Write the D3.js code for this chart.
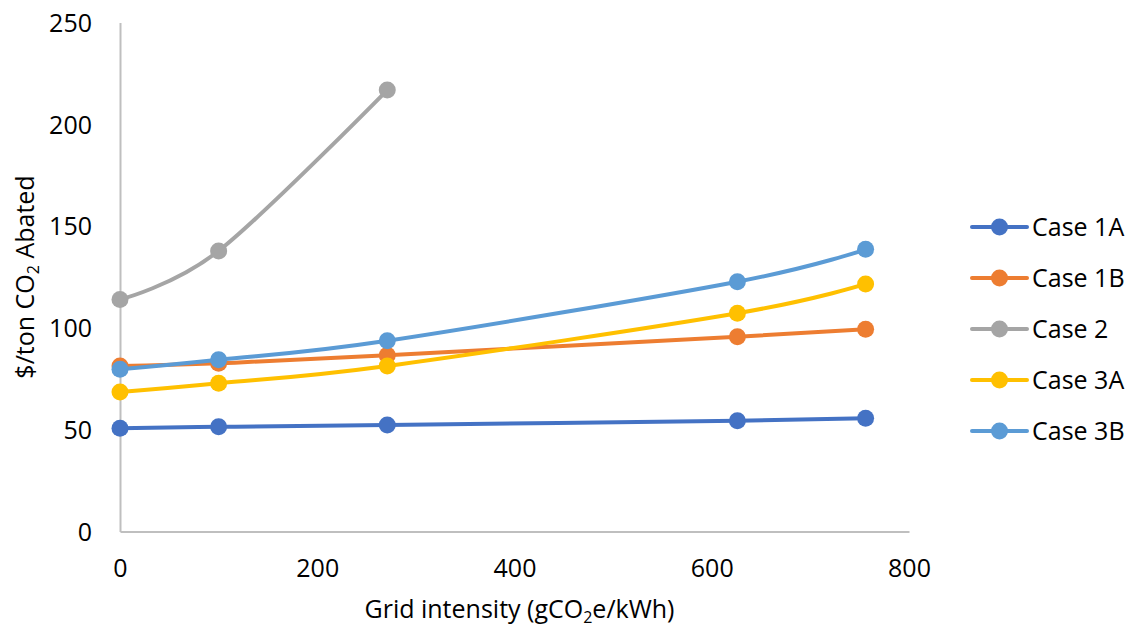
<!DOCTYPE html>
<html>
<head>
<meta charset="utf-8">
<script src="https://cdn.jsdelivr.net/npm/d3@7"></script>
<style>
  html, body { margin: 0; padding: 0; background: #fff; }
  svg { display: block; font-family: "Open Sans", Lato, sans-serif; }
</style>
</head>
<body>
<svg id="chart" width="1129" height="629"></svg>
<script>
// Grid intensity (gCO2e/kWh) at which each case was evaluated
const gridIntensity = [0, 100, 271, 626, 756];

// Abatement cost ($/ton CO2) per case
const case1A = [50.7, 51.4, 52.3, 54.4, 55.6];
const case1B = [81.3, 82.6, 86.6, 95.7, 99.3];
const case2  = [114, 137.8, 216.8];
const case3A = [68.5, 72.8, 81.3, 107.2, 121.6];
const case3B = [79.7, 84.4, 93.7, 122.7, 138.6];

const seriesNames = ["Case 1A", "Case 1B", "Case 2", "Case 3A", "Case 3B"];
const seriesValues = [case1A, case1B, case2, case3A, case3B];
const seriesColors = ["#4472C4", "#ED7D31", "#A5A5A5", "#FFC000", "#5B9BD5"];

const xTicks = [0, 200, 400, 600, 800];
const yTicks = [0, 50, 100, 150, 200, 250];

const FONT = "'Open Sans', Lato, sans-serif";
const FS = "25px";

const svg = d3.select("#chart");
const plot = { left: 120, right: 909, top: 22.5, bottom: 531.5 };

const x = d3.scaleLinear().domain([0, 800]).range([plot.left, plot.right]);
const y = d3.scaleLinear().domain([0, 250]).range([plot.bottom, plot.top]);

// Axes: plain grey lines, no tick marks
const xAxis = svg.append("g")
  .attr("transform", `translate(0,${plot.bottom})`)
  .call(d3.axisBottom(x).tickValues(xTicks).tickSize(0).tickPadding(28));
const yAxis = svg.append("g")
  .attr("transform", `translate(${plot.left},0)`)
  .call(d3.axisLeft(y).tickValues(yTicks).tickSize(0).tickPadding(28));

[xAxis, yAxis].forEach(g => {
  g.select(".domain").attr("stroke", "#BFBFBF").attr("stroke-width", 2);
  g.selectAll("text")
    .attr("fill", "#000")
    .style("font-family", FONT)
    .style("font-size", FS);
});
xAxis.selectAll("text").attr("dy", "0.71em");
yAxis.selectAll("text").attr("dy", "0.35em");

// Axis titles with subscript 2
const xTitle = svg.append("text")
  .attr("x", (plot.left + plot.right) / 2 + 5)
  .attr("y", 618)
  .attr("text-anchor", "middle")
  .style("font-size", FS);
xTitle.append("tspan").text("Grid intensity (gCO");
xTitle.append("tspan").text("2").attr("dy", 5).style("font-size", "16px");
xTitle.append("tspan").text("e/kWh)").attr("dy", -5);

const yTitle = svg.append("text")
  .attr("transform", `translate(34,${(plot.top + plot.bottom) / 2}) rotate(-90)`)
  .attr("text-anchor", "middle")
  .style("font-size", FS);
yTitle.append("tspan").text("$/ton CO");
yTitle.append("tspan").text("2").attr("dy", 5).style("font-size", "16px");
yTitle.append("tspan").text(" Abated").attr("dy", -5);

// Smoothed lines with circle markers
const line = d3.line()
  .x((d, i) => x(gridIntensity[i]))
  .y(d => y(d))
  .curve(d3.curveCardinal.tension(0));

seriesValues.forEach((vals, s) => {
  const g = svg.append("g");
  g.append("path")
    .attr("d", line(vals))
    .attr("fill", "none")
    .attr("stroke", seriesColors[s])
    .attr("stroke-width", 4)
    .attr("stroke-linecap", "round");
  g.selectAll("circle")
    .data(vals)
    .join("circle")
    .attr("cx", (d, i) => x(gridIntensity[i]))
    .attr("cy", d => y(d))
    .attr("r", 8.5)
    .attr("fill", seriesColors[s]);
});

// Legend
const legend = svg.append("g");
seriesNames.forEach((name, s) => {
  const cy = 227 + s * 51;
  legend.append("line")
    .attr("x1", 972).attr("x2", 1027)
    .attr("y1", cy).attr("y2", cy)
    .attr("stroke", seriesColors[s])
    .attr("stroke-width", 4)
    .attr("stroke-linecap", "round");
  legend.append("circle")
    .attr("cx", 999.5).attr("cy", cy).attr("r", 8.5)
    .attr("fill", seriesColors[s]);
  legend.append("text")
    .attr("x", 1032).attr("y", cy)
    .attr("dy", "0.35em")
    .style("font-size", FS)
    .text(name);
});
</script>
</body>
</html>
